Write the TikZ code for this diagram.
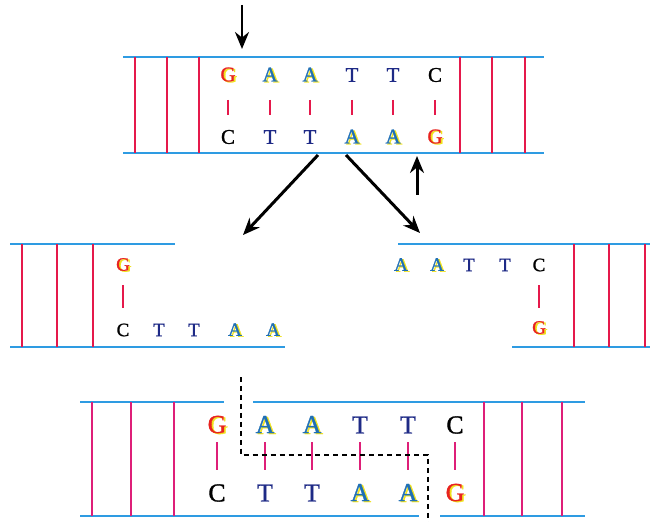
\documentclass[tikz,border=0pt]{standalone}
\usepackage{fontspec}
\setmainfont{Liberation Serif}
\newfontfamily\basefont{Liberation Serif}[FakeBold=1.2]
\usetikzlibrary{arrows.meta}

\definecolor{strandblue}{HTML}{2E9BE2}
\definecolor{bondred}{HTML}{E5194B}
\definecolor{bondpink}{HTML}{DE1F78}
\definecolor{gred}{HTML}{E8231F}
\definecolor{ablue}{HTML}{1F6FB5}
\definecolor{tnavy}{HTML}{1E2A86}
\definecolor{shadeyel}{HTML}{F0E21C}

% letter with a yellow offset copy behind it
\newcommand{\shd}[2]{\rlap{\kern1.8pt\raisebox{-1pt}{\textcolor{shadeyel}{#2}}}\textcolor{#1}{#2}}
\newcommand{\nucG}{\shd{gred}{G}}
\newcommand{\nucA}{\shd{ablue}{A}}
\newcommand{\nucT}{\textcolor{tnavy}{T}}
\newcommand{\nucC}{\textcolor{black}{C}}
\newcommand{\nuc}[1]{\csname nuc#1\endcsname}

\begin{document}
\begin{tikzpicture}[
    x=1bp, y=-1bp,
    strand/.style={strandblue, line width=3pt},
    bond/.style={bondred, line width=2.4pt},
    pinkbond/.style={bondpink, line width=2.4pt},
    cut/.style={-{Stealth[length=17pt,width=14pt]}, line width=3pt},
    small/.style={font=\basefont\fontsize{19}{19}\selectfont, inner sep=0pt},
    mid/.style={font=\basefont\fontsize{21}{21}\selectfont, inner sep=0pt},
    big/.style={font=\basefont\fontsize{26}{26}\selectfont, inner sep=0pt},
]
    \useasboundingbox (0,0) rectangle (650,522);

    % Intact molecule
    \draw[strand] (123,57) -- (544,57);
    \draw[strand] (123,153) -- (544,153);
    \foreach \x in {135,167,199,460,492,525}
        \draw[bond] (\x,57) -- (\x,153);
    \foreach \x/\nu/\nl [count=\i] in {228/G/C,270/A/T,310/A/T,352/T/A,393/T/A,435/C/G} {
        \node[mid] (top-u\i) at (\x,75) {\nuc{\nu}};
        \node[mid] (top-l\i) at (\x,137) {\nuc{\nl}};
        \draw[bond] (\x,100) -- (\x,115);
    }

    % Cut sites
    \coordinate (cut-a) at (242,5);
    \coordinate (cut-a-end) at (242,49);
    \coordinate (cut-b) at (417,195);
    \coordinate (cut-b-end) at (417,156);
    \draw[cut] (cut-a) -- (cut-a-end);
    \draw[cut] (cut-b) -- (cut-b-end);

    % Split arrows
    \coordinate (split-l) at (318,155);
    \coordinate (split-r) at (346,155);
    \coordinate (frag-l) at (243,235);
    \coordinate (frag-r) at (420,233);
    \draw[cut] (split-l) -- (frag-l);
    \draw[cut] (split-r) -- (frag-r);

    % Left fragment
    \draw[strand] (10,244) -- (175,244);
    \draw[strand] (10,347) -- (285,347);
    \foreach \x in {22,57,93}
        \draw[bond] (\x,244) -- (\x,347);
    \node[small] (left-g) at (123,265) {\nuc{G}};
    \draw[bond] (123,285) -- (123,308);
    \foreach \x/\nl [count=\i] in {123/C,159/T,194/T,235/A,273/A}
        \node[small] (left-l\i) at (\x,330) {\nuc{\nl}};

    % Right fragment
    \draw[strand] (398,244) -- (650,244);
    \draw[strand] (512,347) -- (650,347);
    \foreach \x in {574,609,645}
        \draw[bond] (\x,244) -- (\x,347);
    \foreach \x/\nu [count=\i] in {401/A,437/A,469/T,505/T,539/C}
        \node[small] (right-u\i) at (\x,265) {\nuc{\nu}};
    \draw[bond] (539,285) -- (539,308);
    \node[small] (right-g) at (539,328) {\nuc{G}};

    % Rejoined molecule
    \draw[strand] (80,402) -- (224,402);
    \draw[strand] (253,402) -- (585,402);
    \draw[strand] (80,516) -- (419,516);
    \draw[strand] (440,516) -- (585,516);
    \foreach \x in {92,131,174,484,522,562}
        \draw[pinkbond] (\x,402) -- (\x,516);
    \foreach \x/\nu/\nl [count=\i] in {217/G/C,265/A/T,312/A/T,360/T/A,408/T/A,455/C/G} {
        \node[big] (bot-u\i) at (\x,425) {\nuc{\nu}};
        \node[big] (bot-l\i) at (\x,493) {\nuc{\nl}};
        \draw[pinkbond] (\x,442) -- (\x,470);
    }
    \draw[line width=1.6pt, dash pattern=on 5pt off 4pt] (241,377) -- (241,455) -- (428,455) -- (428,522);
\end{tikzpicture}
\end{document}
